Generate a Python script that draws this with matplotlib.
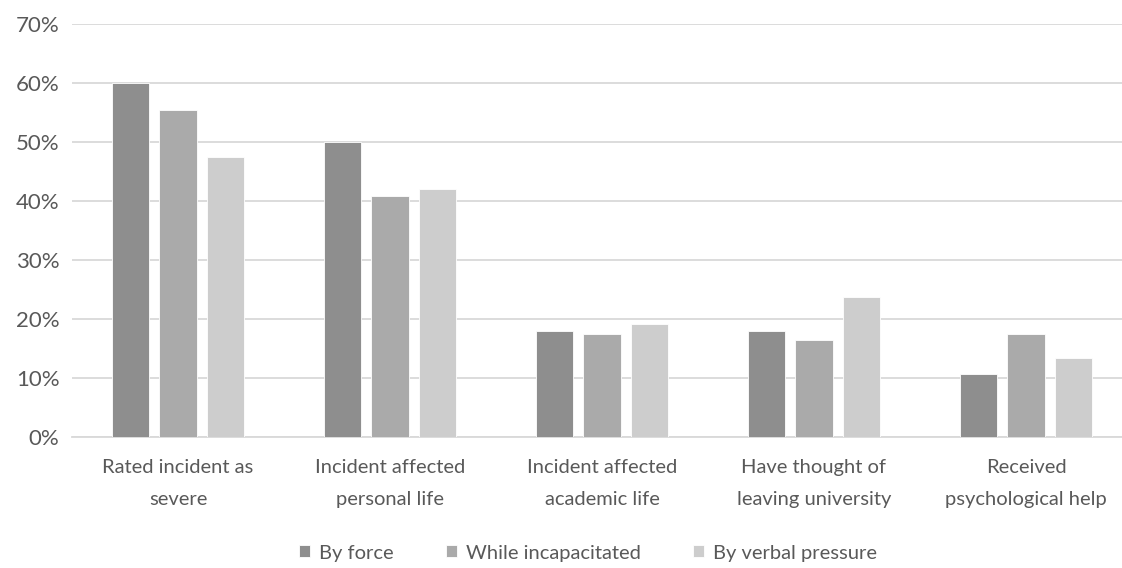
import matplotlib.pyplot as plt
import numpy as np

categories = ["Rated incident as\nsevere", "Incident affected\npersonal life",
              "Incident affected\nacademic life", "Have thought of\nleaving university",
              "Received\npsychological help"]
by_force = [60.0, 50.0, 18.0, 18.0, 10.6]
incapacitated = [55.5, 40.9, 17.5, 16.4, 17.5]
verbal = [47.5, 42.0, 19.1, 23.8, 13.3]
series_names = ["By force", "While incapacitated", "By verbal pressure"]
colors = ["#8e8e8e", "#aaaaaa", "#cdcdcd"]

plt.rcParams['font.family'] = ['Lato', 'DejaVu Sans']
text_col = "#595959"

fig = plt.figure(figsize=(11.22, 5.68), dpi=100)
ax = fig.add_axes([72/1122, 0.2312, 1060/1122, 0.7258])

x = np.arange(len(categories))
w = 0.175
step = 0.222
for k, vals in enumerate([by_force, incapacitated, verbal]):
    ax.bar(x + (k - 1) * step, vals, width=w, color=colors[k], label=series_names[k],
           edgecolor="white", linewidth=0.6, zorder=3)

ax.set_xlim(-0.5, 4.5)
ax.set_ylim(0, 70)
ax.set_yticks(range(0, 71, 10))
ax.set_yticklabels([f"{v}%" for v in range(0, 71, 10)])
ax.set_xticks(x)
ax.set_xticklabels(categories, fontsize=14.5, color=text_col, linespacing=2.05)
ax.tick_params(axis='y', labelsize=16, labelcolor=text_col, length=0, pad=9)
ax.tick_params(axis='x', length=0, pad=16)
ax.grid(axis='y', color="#d9d9d9", linewidth=1.3, zorder=0)
for s in ["top", "right", "left"]:
    ax.spines[s].set_visible(False)
ax.spines["bottom"].set_color("#d9d9d9")
ax.spines["bottom"].set_linewidth(1.3)

fig.legend(loc="center", bbox_to_anchor=(588/1122, 1 - 553/568), ncol=3, frameon=False,
           fontsize=14.5, labelcolor=text_col, handlelength=0.55, handleheight=0.55,
           handletextpad=0.45, columnspacing=2.6)

fig.savefig("out.png", dpi=100)
